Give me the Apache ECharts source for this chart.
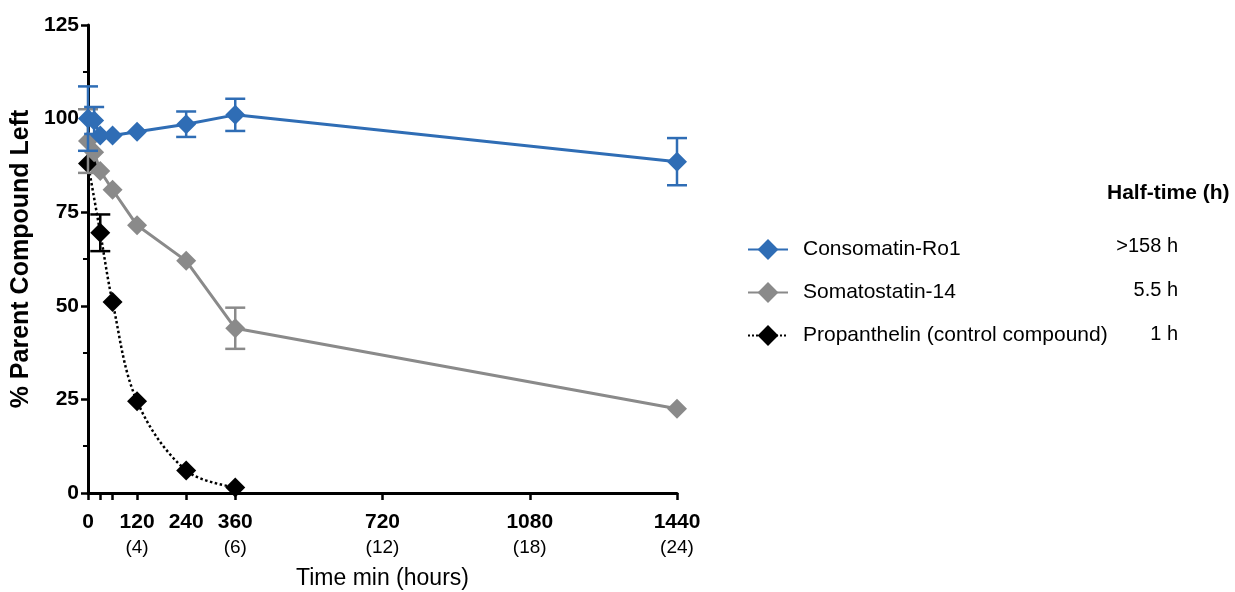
<!DOCTYPE html>
<html>
<head>
<meta charset="utf-8">
<script src="https://cdn.jsdelivr.net/npm/echarts@6/dist/echarts.min.js"></script>
<style>
  html, body {margin: 0; padding: 0; background: #fff;}
  #chart {width: 1235px; height: 592px;}
</style>
</head>
<body>
<div id="chart"></div>
<script>
// time points in minutes
let blueTime = [0, 15, 30, 60, 120, 240, 360, 1440]
let blueValue = [100, 99.5, 95.5, 95.5, 96.5, 98.5, 101, 88.5]
let blueErr = [8.6, 3.6, 0, 0, 0, 3.4, 4.3, 6.3]

let grayTime = [0, 15, 30, 60, 120, 240, 360, 1440]
let grayValue = [94, 91, 86, 81, 71.5, 62, 44, 22.5]
let grayErr = [8.5, 0, 0, 0, 0, 0, 5.5, 0]

let blackTime = [0, 30, 60, 120, 240, 360]
let blackValue = [88, 69.5, 51, 24.5, 6, 1.5]
let blackErr = [0, 4.9, 0, 0, 0, 0]

let seriesNames = ['Consomatin-Ro1', 'Somatostatin-14', 'Propanthelin (control compound)']
let halfTimes = ['>158 h', '5.5 h', '1 h']
let xTicks = [0, 30, 60, 120, 240, 360, 720, 1080, 1440]
let xLabels = [0, 120, 240, 360, 720, 1080, 1440]
let hourLabels = {120: '(4)', 360: '(6)', 720: '(12)', 1080: '(18)', 1440: '(24)'}

const BLUE = '#2f6db5'
const GRAY = '#8a8a8a'
const BLACK = '#000'
const FONT = 'Liberation Sans, Arial, sans-serif'

function pairs(t, v) {
    return t.map((x, i) => [x, v[i]])
}
function errPairs(t, v, e) {
    // only points that have a visible error bar
    return t.map((x, i) => [x, v[i], e[i]]).filter(d => d[2] > 0)
}

function errorBar(color) {
    return function (params, api) {
        let x = api.value(0), y = api.value(1), e = api.value(2)
        let top = api.coord([x, y + e])
        let bot = api.coord([x, y - e])
        let half = 10
        let style = {stroke: color, lineWidth: 2.5}
        return {
            type: 'group',
            children: [
                {type: 'line', shape: {x1: top[0], y1: top[1], x2: bot[0], y2: bot[1]}, style: style},
                {type: 'line', shape: {x1: top[0] - half, y1: top[1], x2: top[0] + half, y2: top[1]}, style: style},
                {type: 'line', shape: {x1: bot[0] - half, y1: bot[1], x2: bot[0] + half, y2: bot[1]}, style: style}
            ]
        }
    }
}

let myChart = echarts.init(document.getElementById('chart'))

let option = {
    animation: false,
    backgroundColor: '#fff',
    grid: {left: 88, right: 558, top: 25, bottom: 99, outerBoundsMode: 'none'},
    legend: {
        data: seriesNames,
        orient: 'vertical',
        left: 742,
        top: 234,
        padding: 5,
        itemWidth: 40,
        itemHeight: 26,
        itemGap: 22,
        textStyle: {fontFamily: FONT, fontSize: 21, color: '#000', padding: [0, 0, 0, 10]}
    },
    xAxis: {
        type: 'value',
        min: 0,
        max: 1440,
        name: 'Time min (hours)',
        nameLocation: 'middle',
        nameGap: 74,
        nameTextStyle: {fontFamily: FONT, fontSize: 23, color: '#000'},
        axisLine: {lineStyle: {color: '#000', width: 3}},
        axisTick: {customValues: xTicks, length: 7, lineStyle: {color: '#000', width: 2.5}},
        axisLabel: {
            customValues: xLabels,
            margin: 17,
            formatter: function (v) {
                let s = '{a|' + v + '}'
                if (hourLabels[v]) s += '\n{b|' + hourLabels[v] + '}'
                return s
            },
            rich: {
                a: {fontFamily: FONT, fontSize: 21, fontWeight: 'bold', color: '#000', lineHeight: 25},
                b: {fontFamily: FONT, fontSize: 19, color: '#000', lineHeight: 25}
            }
        },
        splitLine: {show: false}
    },
    yAxis: {
        type: 'value',
        min: 0,
        max: 125,
        interval: 25,
        name: '% Parent Compound Left',
        nameLocation: 'middle',
        nameGap: 54,
        nameTextStyle: {fontFamily: FONT, fontSize: 25, fontWeight: 'bold', color: '#000'},
        axisLine: {show: true, lineStyle: {color: '#000', width: 3}},
        axisTick: {show: true, length: 7, lineStyle: {color: '#000', width: 2.5}},
        minorTick: {show: true, splitNumber: 2, length: 5, lineStyle: {color: '#000', width: 2}},
        axisLabel: {fontFamily: FONT, fontSize: 21, fontWeight: 'bold', color: '#000', margin: 9},
        splitLine: {show: false}
    },
    graphic: [
        {type: 'text', left: 1107, top: 183, style: {text: 'Half-time (h)', fontFamily: FONT, fontSize: 21, fontWeight: 'bold', fill: '#000'}}
    ].concat(halfTimes.map((t, i) => ({
        type: 'text', right: 1235 - 1178, top: 236 + i * 44,
        style: {text: t, fontFamily: FONT, fontSize: 20, fill: '#000', align: 'right'}
    }))),
    series: [
        {type: 'custom', name: 'errBlue', renderItem: errorBar(BLUE), data: errPairs(blueTime, blueValue, blueErr), z: 3, silent: true},
        {type: 'custom', name: 'errGray', renderItem: errorBar(GRAY), data: errPairs(grayTime, grayValue, grayErr), z: 2, silent: true},
        {type: 'custom', name: 'errBlack', renderItem: errorBar(BLACK), data: errPairs(blackTime, blackValue, blackErr), z: 1, silent: true},
        {
            name: seriesNames[2], type: 'line', data: pairs(blackTime, blackValue), z: 1,
            smooth: 0.35, symbol: 'diamond', symbolSize: 20,
            itemStyle: {color: BLACK}, lineStyle: {color: BLACK, width: 2.5, type: 'dotted'}
        },
        {
            name: seriesNames[1], type: 'line', data: pairs(grayTime, grayValue), z: 2,
            symbol: 'diamond', symbolSize: 20,
            itemStyle: {color: GRAY}, lineStyle: {color: GRAY, width: 3}
        },
        {
            name: seriesNames[0], type: 'line', data: pairs(blueTime, blueValue), z: 3,
            symbol: 'diamond', symbolSize: 20,
            itemStyle: {color: BLUE}, lineStyle: {color: BLUE, width: 3}
        }
    ]
}
myChart.setOption(option)
</script>
</body>
</html>
